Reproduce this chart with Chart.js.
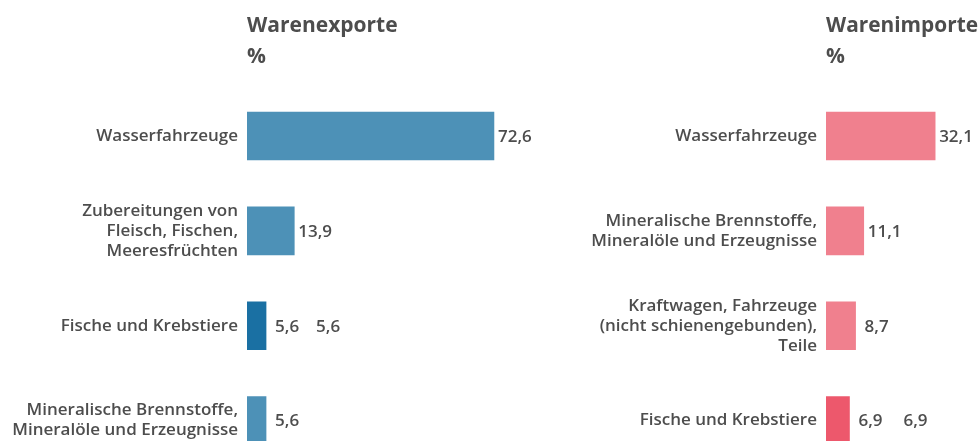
<!DOCTYPE html>
<html>
<head>
<meta charset="utf-8">
<script src="https://cdn.jsdelivr.net/npm/chart.js@4/dist/chart.umd.min.js"></script>
<style>
  html, body { margin: 0; padding: 0; background: #fff; width: 978px; height: 441px; overflow: hidden; }
  .panel { position: absolute; top: 0; }
</style>
</head>
<body>
<div class="panel" style="left:0;width:580px;height:487px;"><canvas id="exp" width="580" height="487"></canvas></div>
<div class="panel" style="left:580px;width:398px;height:487px;"><canvas id="imp" width="398" height="487"></canvas></div>
<script>
// ---- data ----
const exportTitle = ['Warenexporte', '%'];
const exportCategories = [
  ['Wasserfahrzeuge'],
  ['Zubereitungen von', 'Fleisch, Fischen,', 'Meeresfrüchten'],
  ['Fische und Krebstiere'],
  ['Mineralische Brennstoffe,', 'Mineralöle und Erzeugnisse']
];
const exportValues = [72.6, 13.9, 5.6, 5.6];
const exportHighlight = [false, false, true, false];

const importTitle = ['Warenimporte', '%'];
const importCategories = [
  ['Wasserfahrzeuge'],
  ['Mineralische Brennstoffe,', 'Mineralöle und Erzeugnisse'],
  ['Kraftwagen, Fahrzeuge', '(nicht schienengebunden),', 'Teile'],
  ['Fische und Krebstiere']
];
const importValues = [32.1, 11.1, 8.7, 6.9];
const importHighlight = [false, false, false, true];

// ---- styling ----
const FONT = "'Open Sans', 'Noto Sans', sans-serif";
const TEXT = '#4d4d4d';

function fmt(v) { return v.toFixed(1).replace('.', ','); }

const valueLabels = {
  id: 'valueLabels',
  afterDatasetsDraw(chart, args, opts) {
    const ctx = chart.ctx;
    const ds = chart.data.datasets[0];
    const meta = chart.getDatasetMeta(0);
    ctx.save();
    ctx.font = '600 17px ' + FONT;
    ctx.fillStyle = TEXT;
    ctx.textBaseline = 'middle';
    ctx.textAlign = 'left';
    meta.data.forEach((bar, i) => {
      const v = ds.data[i];
      const gap = v < 10 ? 9 : 4;
      const x = bar.x + gap;
      ctx.fillText(fmt(v), x, bar.y + 1);
      if (opts.highlight[i]) {
        ctx.fillText(fmt(v), x + opts.dupOffset, bar.y + 1);
      }
    });
    ctx.restore();
  }
};

function makeChart(id, title, cats, vals, hl, base, strong, axisWidth, xMax, dupOffset) {
  return new Chart(document.getElementById(id), {
    type: 'bar',
    data: {
      labels: cats,
      datasets: [{
        data: vals,
        backgroundColor: hl.map(h => h ? strong : base),
        barThickness: 48,
        borderWidth: 0
      }]
    },
    plugins: [valueLabels],
    options: {
      indexAxis: 'y',
      responsive: false,
      animation: false,
      devicePixelRatio: 1,
      layout: { padding: { top: 0, right: 0, bottom: 0.6, left: 0 } },
      plugins: {
        legend: { display: false },
        tooltip: { enabled: false },
        title: {
          display: true,
          text: title,
          align: 'start',
          fullSize: false,
          color: TEXT,
          font: { family: FONT, size: 21, weight: '700', lineHeight: '31px' },
          padding: { top: 11, bottom: 15.6 }
        },
        valueLabels: { highlight: hl, dupOffset: dupOffset }
      },
      scales: {
        x: { display: false, min: 0, max: xMax },
        y: {
          grid: { display: false, drawTicks: false },
          border: { display: false },
          ticks: {
            color: TEXT,
            padding: 9,
            font: { family: FONT, size: 17, weight: '600', lineHeight: '20px' }
          },
          afterFit(scale) { scale.width = axisWidth; }
        }
      }
    }
  });
}

makeChart('exp', exportTitle, exportCategories, exportValues, exportHighlight,
  '#4d91b7', '#1a70a3', 247, 97.9, 41);
makeChart('imp', importTitle, importCategories, importValues, importHighlight,
  '#f0808e', '#ed586c', 246, 44.7, 45);
</script>
</body>
</html>
